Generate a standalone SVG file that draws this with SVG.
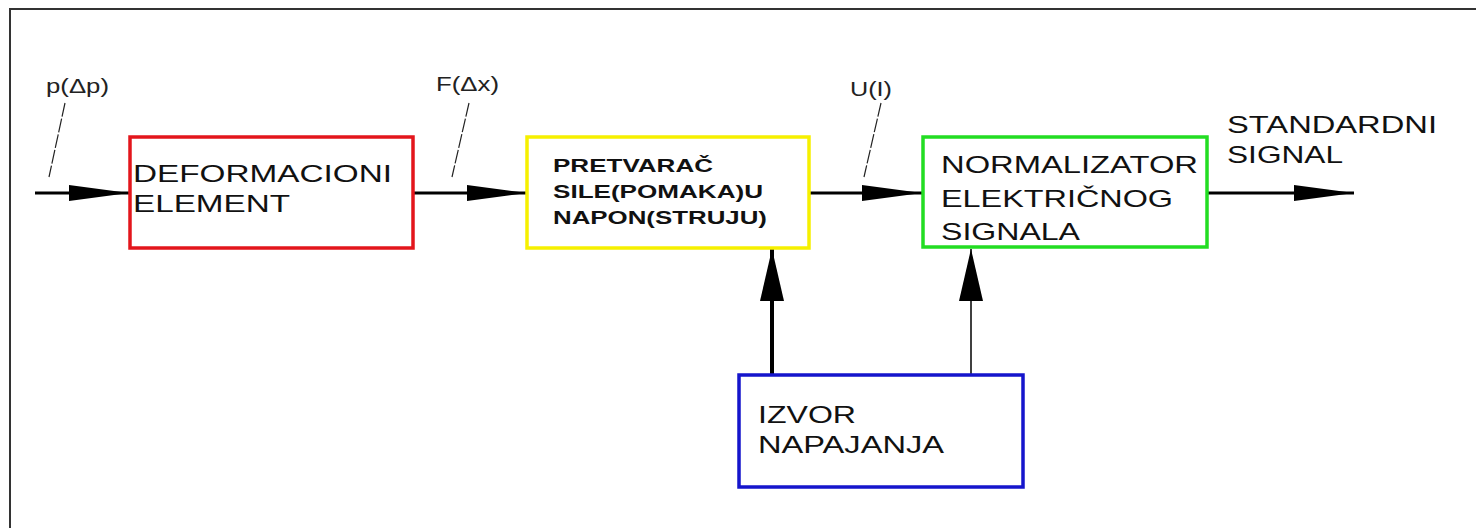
<svg xmlns="http://www.w3.org/2000/svg" width="1476" height="528" viewBox="0 0 1476 528">
<style>
.t{font-family:"Liberation Sans",Arial,sans-serif;font-size:24px;fill:#111}
.tb{font-family:"Liberation Sans",Arial,sans-serif;font-size:18px;font-weight:bold;fill:#111}
.lb{font-family:"Liberation Sans",Arial,sans-serif;font-size:20px;fill:#222}
.box{fill:#fff;stroke-width:3.5}
.ln{stroke:#000;fill:none}
.ld{stroke:#222;stroke-width:1.2;fill:none;stroke-dasharray:14 2}
</style>
<defs>
<marker id="ah" markerUnits="userSpaceOnUse" viewBox="0 0 60 18" markerWidth="60" markerHeight="18" refX="60" refY="9" orient="auto">
<path d="M0,1 L60,9 L0,17 Z" fill="#000"/>
</marker>
<marker id="av" markerUnits="userSpaceOnUse" viewBox="0 0 52 24" markerWidth="52" markerHeight="24" refX="52" refY="12" orient="auto">
<path d="M0,0 L52,12 L0,24 Z" fill="#000"/>
</marker>
</defs>
<rect width="1476" height="528" fill="#fff"/>
<path d="M10,528 V9 H1476" fill="none" stroke="#333" stroke-width="2"/>

<g id="connectors">
<line class="ln" x1="35" y1="193" x2="129" y2="193" stroke-width="3" marker-end="url(#ah)"/>
<line class="ln" x1="413" y1="193" x2="527" y2="193" stroke-width="3" marker-end="url(#ah)"/>
<line class="ln" x1="809" y1="193" x2="922" y2="193" stroke-width="3" marker-end="url(#ah)"/>
<line class="ln" x1="1207" y1="193" x2="1354" y2="193" stroke-width="3" marker-end="url(#ah)"/>
<line class="ln" x1="772" y1="375" x2="772" y2="249" stroke-width="4" marker-end="url(#av)"/>
<line class="ln" x1="971" y1="375" x2="971" y2="249" stroke-width="1.5" marker-end="url(#av)"/>
<line class="ld" x1="65" y1="103" x2="49" y2="177"/>
<line class="ld" x1="469" y1="103" x2="452" y2="177"/>
<line class="ld" x1="881" y1="103" x2="864" y2="177"/>
<text class="lb" x="46" y="93" textLength="63" lengthAdjust="spacingAndGlyphs">p(Δp)</text>
<text class="lb" x="436" y="91" textLength="63" lengthAdjust="spacingAndGlyphs">F(Δx)</text>
<text class="lb" x="850" y="96" textLength="42" lengthAdjust="spacingAndGlyphs">U(I)</text>
<text class="t" x="1227" y="133" textLength="210" lengthAdjust="spacingAndGlyphs">STANDARDNI</text>
<text class="t" x="1227" y="163" textLength="116" lengthAdjust="spacingAndGlyphs">SIGNAL</text>
</g>

<g id="deformacioni">
<rect class="box" x="130" y="137" width="283" height="111" stroke="#e3161c"/>
<text class="t" x="133" y="182" textLength="259" lengthAdjust="spacingAndGlyphs">DEFORMACIONI</text>
<text class="t" x="133" y="212" textLength="157" lengthAdjust="spacingAndGlyphs">ELEMENT</text>
</g>

<g id="pretvarac">
<rect class="box" x="527" y="137" width="282" height="111" stroke="#f6f000"/>
<text class="tb" x="553" y="172" textLength="160" lengthAdjust="spacingAndGlyphs">PRETVARAČ</text>
<text class="tb" x="553" y="198" textLength="210" lengthAdjust="spacingAndGlyphs">SILE(POMAKA)U</text>
<text class="tb" x="553" y="224" textLength="214" lengthAdjust="spacingAndGlyphs">NAPON(STRUJU)</text>
</g>

<g id="normalizator">
<rect class="box" x="923" y="137" width="284" height="110" stroke="#22dd22"/>
<text class="t" x="941" y="173" textLength="257" lengthAdjust="spacingAndGlyphs">NORMALIZATOR</text>
<text class="t" x="941" y="207" textLength="232" lengthAdjust="spacingAndGlyphs">ELEKTRIČNOG</text>
<text class="t" x="941" y="240" textLength="139" lengthAdjust="spacingAndGlyphs">SIGNALA</text>
</g>

<g id="izvor">
<rect class="box" x="739" y="375" width="284" height="112" stroke="#1515cc"/>
<text class="t" x="758" y="423" textLength="98" lengthAdjust="spacingAndGlyphs">IZVOR</text>
<text class="t" x="758" y="453" textLength="186" lengthAdjust="spacingAndGlyphs">NAPAJANJA</text>
</g>
</svg>
